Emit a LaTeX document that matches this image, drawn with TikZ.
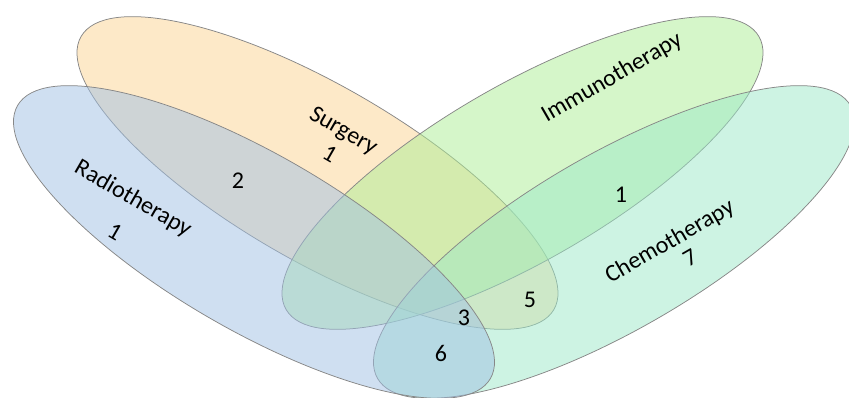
\documentclass[tikz,border=0pt]{standalone}
\usepackage{fontspec}
\setmainfont{Carlito}
\definecolor{cblue}{RGB}{160,192,228}
\definecolor{corange}{RGB}{252,211,146}
\definecolor{cimmuno}{RGB}{172,238,148}
\definecolor{cchemo}{RGB}{156,232,200}
\definecolor{cline}{RGB}{135,135,135}
\begin{document}
\begin{tikzpicture}[x=1pt,y=1pt,
  setshape/.style={draw=cline, line width=0.75pt, fill opacity=0.5},
  lbl/.style={font=\fontsize{24}{28}\selectfont, inner sep=0pt, text=black, align=center}]
\useasboundingbox (0,0) rectangle (849,398);
\clip (0,0) rectangle (849,398);
% Surgery (orange)
\filldraw[setshape, fill=corange, rotate around={-30:(317.5,225)}] (317.5,225) ellipse (273pt and 88pt);
% Immunotherapy (light green)
\filldraw[setshape, fill=cimmuno, rotate around={30:(522.5,225)}] (522.5,225) ellipse (273pt and 88pt);
% Chemotherapy (mint)
\filldraw[setshape, fill=cchemo, rotate around={30:(614,156)}] (614,156) ellipse (273pt and 88pt);
% Radiotherapy (blue)
\filldraw[setshape, fill=cblue, rotate around={-30:(254,156)}] (254,156) ellipse (273pt and 88pt);
% labels
\node[lbl, rotate=-30] (radio) at (133,199) {Radiotherapy};
\node[lbl, rotate=-30] (radion) at (115,166) {1};
\node[lbl, rotate=-30] (surg) at (337,256) {Surgery\\1};
\node[lbl, rotate=30] (immuno) at (612,320) {Immunotherapy};
\node[lbl, rotate=30] (chemo) at (670,156) {Chemotherapy};
\node[lbl, rotate=30] (chemon) at (690,140) {7};
\node[lbl] (n2) at (238,217) {2};
\node[lbl] (n1) at (621,203) {1};
\node[lbl] (n5) at (530,98) {5};
\node[lbl] (n3) at (464,80) {3};
\node[lbl] (n6) at (441,45) {6};
\end{tikzpicture}
\end{document}
